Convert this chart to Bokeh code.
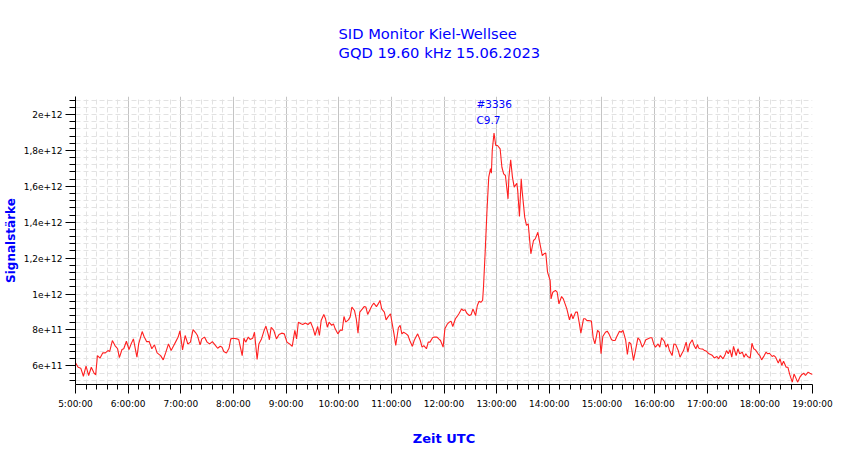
from bokeh.plotting import figure
from bokeh.models import Range1d, FixedTicker, Label, Title
from bokeh.embed import file_html
from bokeh.resources import INLINE

# ---- data ----
# time in minutes after 05:00 UTC, signal in units of 1e11
time_min = [
    0, 3, 6, 9, 12, 15, 18, 21, 23, 25, 28, 31, 34, 37, 39, 42, 45, 48, 50, 53,
    55, 58, 61, 63, 66, 70, 72, 76, 78, 81, 84, 87, 90, 93, 97, 100, 103, 106, 109, 112,
    114, 117, 119, 122, 125, 128, 131, 134, 137, 139, 142, 144, 147, 150, 153, 156, 159, 162, 165, 167,
    169, 172, 175, 177, 180, 184, 186, 190, 192, 194, 197, 199, 202, 204, 207, 209, 212, 215, 217, 220,
    221, 223, 226, 229, 232, 235, 238, 241, 244, 247, 250, 252, 254, 257, 259, 262, 265, 268, 271, 273,
    276, 278, 280, 283, 285, 287, 289, 292, 294, 296, 299, 302, 304, 306, 308, 311, 313, 315, 318, 320,
    322, 324, 327, 329, 331, 333, 336, 338, 340, 343, 345, 347, 349, 352, 354, 356, 359, 361, 363, 365,
    368, 370, 372, 374, 377, 379, 381, 384, 386, 388, 390, 393, 395, 397, 400, 402, 404, 407, 409, 412,
    414, 416, 419,
    421, 424, 426, 428, 430, 433, 435, 437, 440, 442, 444, 446, 449, 451, 453, 456, 458, 460, 462, 464,
    465, 467, 469, 471, 473, 474, 475, 477, 479, 481, 484, 486, 488, 490, 493, 494, 496, 498, 500, 503,
    504, 506, 508, 509, 512, 514, 516, 519, 522, 524, 527, 529, 532, 534, 536, 538, 541, 542,
    544, 547, 549, 551, 554, 556, 558, 560, 563, 565, 567, 570, 572, 574, 576, 579, 581, 583, 585, 588,
    590, 592, 595, 597, 599, 601, 604, 606, 608, 611, 613, 615, 617, 620, 622, 624, 627, 629, 631, 633,
    636, 639, 641, 643, 646, 648, 650, 652, 655, 657, 659, 661, 664, 666, 668, 671, 673, 675, 677, 680,
    682, 684, 687, 689, 691, 693, 696, 698, 700, 703, 705, 707, 709,
    710, 712, 715, 717, 719, 722, 724, 726, 728, 731, 733, 735, 738, 740, 742, 744, 746, 748, 750, 753,
    755, 757, 760, 762, 764, 766, 769, 771, 773, 775, 778, 780, 782, 785, 787, 789, 791, 794, 796, 798,
    801, 803, 805, 807, 810, 812, 814, 817, 819, 821, 823, 826, 828, 830, 832, 835, 837, 840,
]
signal_e11 = [
    6.17, 5.92, 5.87, 5.42, 5.98, 5.46, 5.92, 5.61, 5.50, 6.57, 6.43, 6.72, 6.72, 6.85, 6.80, 7.41, 7.13, 6.95, 6.46, 6.91,
    6.95, 7.37, 6.91, 7.17, 7.50, 6.48, 7.22, 7.91, 7.65, 7.35, 7.35, 6.95, 7.17, 6.72, 6.57, 6.33, 6.76, 7.22, 6.85, 7.13,
    7.32, 7.60, 7.95, 6.89, 7.69, 7.22, 7.32, 8.02, 7.84, 7.69, 7.17, 7.50, 7.60, 7.32, 7.22, 7.35, 7.17, 6.98, 7.09, 7.04,
    6.80, 6.72, 6.98, 7.50, 7.54, 7.50, 7.47, 6.57, 7.54, 7.32, 7.60, 7.47, 7.54, 7.87, 6.35, 7.22, 7.50, 7.97, 8.21, 7.69,
    7.45, 8.15, 7.97, 7.50, 7.74, 7.82, 7.78, 7.32, 7.22, 7.08, 7.97, 7.50, 8.43, 8.34, 8.30, 8.38, 8.30, 8.43, 8.06, 7.69,
    8.19, 7.69, 8.52, 8.86, 8.62, 8.15, 8.43, 8.25, 8.34, 8.06, 7.78, 8.00, 7.97, 8.75, 8.43, 8.56, 8.71, 9.27, 9.08, 8.62,
    7.82, 8.99, 9.17, 9.30, 9.27, 8.86, 9.17, 9.36, 9.49, 9.30, 9.45, 9.64, 9.17, 8.99, 8.56, 8.71, 8.90, 8.34, 7.78, 7.13,
    8.12, 8.25, 7.78, 7.87, 7.78, 7.69, 7.41, 7.08, 7.41, 7.60, 7.78, 7.41, 7.04, 7.13, 6.95, 7.32, 7.32, 7.56, 7.60, 7.60,
    7.50, 7.41, 7.04,
    8.06, 8.34, 8.43, 8.49, 8.19, 8.62, 8.75, 8.90, 9.17, 9.08, 9.12, 8.93, 8.80, 8.86, 9.17, 8.80, 9.36, 9.60, 9.54, 9.64,
    10.38, 12.42, 14.65, 16.51, 16.98, 16.73, 18.00, 18.96, 18.27, 18.27, 18.08, 17.06, 16.69, 16.60, 15.30, 16.51, 17.48, 16.51, 15.95, 16.17,
    15.77, 14.32, 16.42, 15.77, 14.28, 13.82, 13.91, 12.24, 12.98, 13.07, 13.44, 12.89, 12.14, 12.24, 12.28, 11.22, 10.75, 9.73,
    10.10, 10.20, 10.10, 9.45, 9.86, 9.73, 9.45, 9.17, 8.56, 8.90, 8.62, 8.99, 8.99, 8.43, 7.82, 8.62, 8.62, 8.52, 8.52, 8.49,
    7.56, 7.22, 7.97, 7.87, 6.67, 7.63, 7.87, 7.93, 7.78, 7.45, 7.41, 7.41, 7.63, 7.93, 7.87, 7.97, 7.45, 6.63, 7.32, 7.22,
    6.30, 7.04, 7.56, 7.45, 7.04, 7.22, 7.45, 7.50, 7.56, 7.56, 7.22, 7.04, 7.22, 7.04, 7.56, 7.37, 7.04, 7.22, 6.85, 6.57,
    7.22, 7.19, 6.85, 6.48, 6.67, 6.85, 7.32, 6.76, 7.22, 7.45, 7.13, 6.95, 7.19,
    7.00, 6.95, 6.93, 6.85, 6.82, 6.67, 6.63, 6.57, 6.44, 6.52, 6.39, 6.57, 6.39, 6.57, 6.85, 6.67, 6.89, 6.48, 7.08, 6.57,
    6.95, 6.67, 6.76, 6.48, 6.67, 6.52, 6.44, 7.26, 6.95, 6.89, 6.67, 6.57, 6.33, 6.57, 6.76, 6.67, 6.70, 6.52, 6.57, 6.48,
    6.15, 6.39, 6.02, 6.26, 5.92, 5.92, 5.52, 5.09, 5.55, 5.33, 5.09, 5.40, 5.52, 5.59, 5.46, 5.65, 5.59, 5.52,
]

hours = list(range(5, 20))
hour_labels = [f"{h}:00:00" for h in hours]
y_major = [600 * 10**9 + k * 200 * 10**9 for k in range(8)]
y_labels = ["6e+11", "8e+11", "1e+12", "1,2e+12", "1,4e+12", "1,6e+12", "1,8e+12", "2e+12"]

title_lines = ["SID Monitor Kiel-Wellsee", "GQD 19.60 kHz 15.06.2023"]
flare_id = "#3336"
flare_class = "C9.7"
flare_label_min = 457          # label anchored at about 12:37 UTC
flare_label_y = [20.56, 19.70]  # in units of 1e11

# ---- derived ----
xs = [5 + m / 60.0 for m in time_min]
ys = [v * 1e11 for v in signal_e11]

FONT = "DejaVu Sans"
BLUE = "#0000ff"

p = figure(
    frame_width=737, frame_height=288,
    min_border_left=71, min_border_right=26, min_border_top=96, min_border_bottom=60,
    x_range=Range1d(5, 19), y_range=Range1d(4.96e11, 2.1e12),
    output_backend="svg", toolbar_location=None,
    title="\n".join(title_lines),
)
p.outline_line_color = None
p.background_fill_color = "white"
p.border_fill_color = "white"

p.title.align = "left"
p.title.offset = 263
p.title.standoff = 0
p.title.text_font = FONT
p.title.text_font_size = "14.7px"
p.title.text_font_style = "normal"
p.title.text_color = BLUE
p.title.text_line_height = 1.17

# empty spacer between the title and the plot area
p.add_layout(Title(text=" ", text_font_size="1px", standoff=32), "above")

# axes
x_minor = [k / 5 for k in range(25, 96) if k % 5]
y_minor = [520 * 10**9 + k * 40 * 10**9 for k in range(40) if (520 + k * 40) % 200]

p.xaxis.ticker = FixedTicker(ticks=hours, minor_ticks=x_minor)
p.xaxis.major_label_overrides = dict(zip(hours, hour_labels))
p.yaxis.ticker = FixedTicker(ticks=y_major, minor_ticks=y_minor)
p.yaxis.major_label_overrides = dict(zip(y_major, y_labels))

for ax in (p.xaxis, p.yaxis):
    ax.axis_line_color = "black"
    ax.major_tick_line_color = "black"
    ax.minor_tick_line_color = "black"
    ax.major_tick_in = 0
    ax.minor_tick_in = 0
    ax.major_label_text_font = FONT
    ax.major_label_text_font_size = "9px"
    ax.major_label_text_color = "black"
    ax.axis_label_text_font = FONT
    ax.axis_label_text_font_style = "bold"
    ax.axis_label_text_color = BLUE

p.xaxis.major_tick_out = 9
p.xaxis.minor_tick_out = 5
p.xaxis.major_label_standoff = 5
p.xaxis.axis_label = "Zeit UTC"
p.xaxis.axis_label_text_font_size = "13px"
p.xaxis.axis_label_standoff = 19

p.yaxis.major_tick_out = 10
p.yaxis.minor_tick_out = 6
p.yaxis.major_label_standoff = 3
p.yaxis.axis_label = "Signalstärke"
p.yaxis.axis_label_text_font_size = "12px"
p.yaxis.axis_label_standoff = 3

# grids
p.xgrid.ticker = FixedTicker(ticks=hours[1:-1], minor_ticks=x_minor)
p.xgrid.grid_line_color = "#c4c4c4"
p.xgrid.grid_line_width = 1
p.xgrid.minor_grid_line_color = "#e2e2e2"
p.xgrid.minor_grid_line_dash = "5 3"

p.ygrid.ticker = FixedTicker(ticks=y_major, minor_ticks=y_minor)
p.ygrid.grid_line_color = "#e2e2e2"
p.ygrid.grid_line_dash = "5 3"
p.ygrid.minor_grid_line_color = "#e2e2e2"
p.ygrid.minor_grid_line_dash = "5 3"

# data line
p.line(xs, ys, line_color="#ff2020", line_width=1.1)

# flare annotation
fx = 5 + flare_label_min / 60.0
for txt, yy in zip([flare_id, flare_class], flare_label_y):
    p.add_layout(Label(x=fx, y=yy * 1e11, text=txt, text_font=FONT,
                       text_font_size="10.5px", text_color=BLUE,
                       text_baseline="middle", text_align="left"))

open("out.html", "w").write(file_html(p, INLINE))
